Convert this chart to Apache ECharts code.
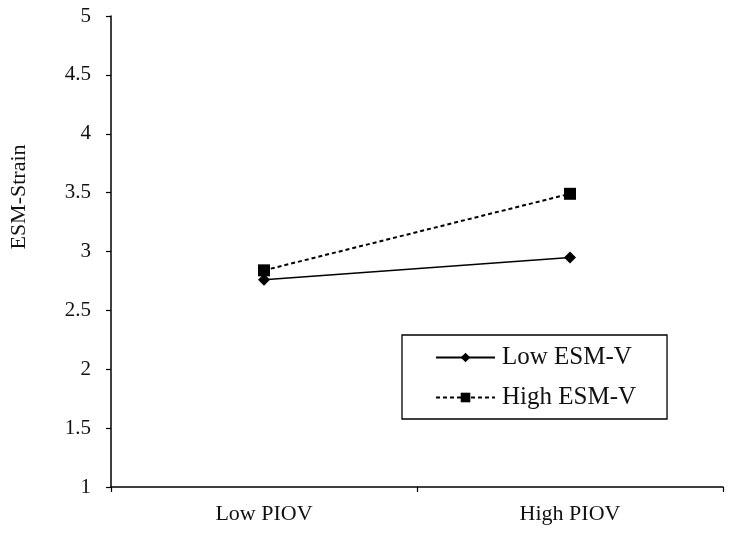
<!DOCTYPE html>
<html><head><meta charset="utf-8">
<script src="https://cdn.jsdelivr.net/npm/echarts@6/dist/echarts.min.js"></script>
<style>html,body{margin:0;padding:0;background:#fff}#c{width:733px;height:534px}</style>
</head><body><div id="c"></div>
<script>
const categories = ["Low PIOV", "High PIOV"];
const lowESMV = [2.76, 2.95];
const highESMV = [2.84, 3.49];
const seriesNames = ["Low ESM-V", "High ESM-V"];
const yTicks = {min: 1, max: 5, interval: 0.5};

const font = "Liberation Serif";
const chart = echarts.init(document.getElementById('c'), null, {renderer: 'canvas'});
chart.setOption({
  backgroundColor: '#fff',
  animation: false,
  grid: {left: 110, right: 10, top: 16, bottom: 47},
  xAxis: {
    type: 'category', data: categories, boundaryGap: true,
    axisLine: {lineStyle: {color: '#000', width: 1.5}},
    axisTick: {show: true, inside: false, length: 5, lineStyle: {color: '#000', width: 1.2}},
    axisLabel: {color: '#111', fontFamily: font, fontSize: 22, margin: 16},
    splitLine: {show: false}
  },
  yAxis: {
    type: 'value', min: yTicks.min, max: yTicks.max, interval: yTicks.interval,
    name: 'ESM-Strain', nameLocation: 'middle', nameGap: 81, nameRotate: 90,
    nameTextStyle: {color: '#111', fontFamily: font, fontSize: 22, padding: [0, 0, 0, 109]},
    axisLine: {show: true, lineStyle: {color: '#000', width: 1.5}},
    axisTick: {show: true, length: 5, lineStyle: {color: '#000', width: 1.2}},
    axisLabel: {color: '#111', fontFamily: font, fontSize: 21, margin: 20},
    splitLine: {show: false}
  },
  legend: {
    orient: 'vertical', left: 402, top: 335,
    padding: [10, 31, 9, 33], itemGap: 15,
    itemWidth: 59, itemHeight: 12,
    borderColor: '#000', borderWidth: 1.3,
    textStyle: {color: '#111', fontFamily: font, fontSize: 25, padding: [0, 0, 0, 2]},
    data: seriesNames
  },
  series: [
    {name: seriesNames[0], type: 'line', data: lowESMV, symbol: 'diamond', symbolSize: 12,
     itemStyle: {color: '#000'}, lineStyle: {color: '#000', width: 1.5, type: 'solid'}},
    {name: seriesNames[1], type: 'line', data: highESMV, symbol: 'rect', symbolSize: 12,
     itemStyle: {color: '#000'}, lineStyle: {color: '#000', width: 2, type: [4, 3]}}
  ]
});
</script></body></html>
